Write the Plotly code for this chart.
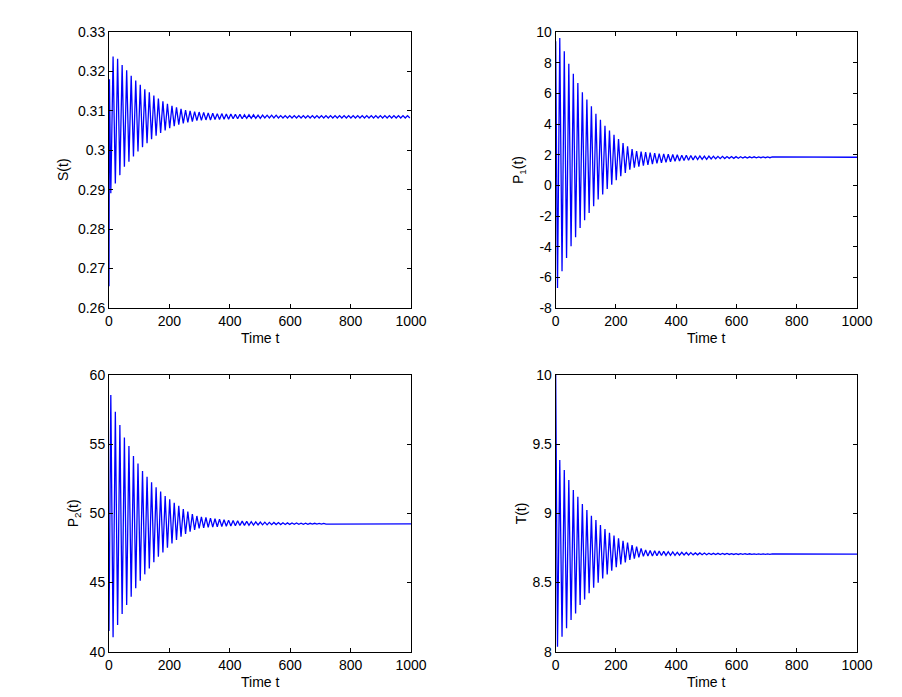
import plotly.graph_objects as go
from itertools import zip_longest

# times of the successive extrema (~15 time units per cycle)
t_ext = [
    6, 13.5, 21, 28.5, 36, 43.5, 51, 58.5, 66, 73.5,
    81, 88.5, 96, 103.5, 111, 118.5, 126, 133.5, 141, 148.5,
    156, 163.5, 171, 178.5, 186, 193.5, 201, 208.5, 216, 223.5,
    231, 238.5, 246, 253.5, 261, 268.5, 276, 283.5, 291, 298.5,
    306, 313.5, 321, 328.5, 336, 343.5, 351, 358.5, 366, 373.5,
    381, 388.5, 396, 403.5, 411, 418.5, 426, 433.5, 441, 448.5,
    456, 463.5, 471, 478.5, 486, 493.5, 501, 508.5, 516, 523.5,
    531, 538.5, 546, 553.5, 561, 568.5, 576, 583.5, 591, 598.5,
    606, 613.5, 621, 628.5, 636, 643.5, 651, 658.5, 666, 673.5,
    681, 688.5, 696, 703.5, 711, 718.5, 726, 733.5, 741, 748.5,
    756, 763.5, 771, 778.5, 786, 793.5, 801, 808.5, 816, 823.5,
    831, 838.5, 846, 853.5, 861, 868.5, 876, 883.5, 891, 898.5,
    906, 913.5, 921, 928.5, 936, 943.5, 951, 958.5, 966, 973.5,
    981, 988.5, 996,
]

# S(t)
s_start_t = [0, 1.5]
s_start = [0.2655, 0.318]
s_trough = [
    0.2891, 0.2916, 0.2937, 0.2958, 0.2971, 0.2984, 0.2997, 0.3008, 0.3018, 0.3028,
    0.3037, 0.3044, 0.3050, 0.3056, 0.3061, 0.3065, 0.3068, 0.3071, 0.3073, 0.3075,
    0.3076, 0.3077, 0.3077, 0.3078, 0.3078, 0.3079, 0.3079, 0.3080, 0.3080, 0.3080,
    0.3081, 0.3081, 0.3081, 0.3081, 0.3082, 0.3082, 0.3082, 0.3082, 0.3082, 0.3082,
    0.3082, 0.3082, 0.3082, 0.3082, 0.3082, 0.3082, 0.3082, 0.3082, 0.3082, 0.3082,
    0.3082, 0.3082, 0.3082, 0.3082, 0.3082, 0.3082, 0.3082, 0.3082, 0.3082, 0.3082,
    0.3082, 0.3082, 0.3082, 0.3082, 0.3082, 0.3082, 0.3082,
]
s_peak = [
    0.3238, 0.3232, 0.3216, 0.3203, 0.3189, 0.3177, 0.3166, 0.3155, 0.3147, 0.3139,
    0.3131, 0.3124, 0.3118, 0.3113, 0.3109, 0.3105, 0.3102, 0.3100, 0.3098, 0.3097,
    0.3096, 0.3095, 0.3094, 0.3093, 0.3093, 0.3092, 0.3092, 0.3091, 0.3091, 0.3090,
    0.3090, 0.3090, 0.3089, 0.3089, 0.3089, 0.3089, 0.3089, 0.3088, 0.3088, 0.3088,
    0.3088, 0.3088, 0.3088, 0.3088, 0.3088, 0.3088, 0.3088, 0.3088, 0.3088, 0.3088,
    0.3088, 0.3088, 0.3088, 0.3088, 0.3088, 0.3088, 0.3088, 0.3088, 0.3088, 0.3088,
    0.3088, 0.3088, 0.3088, 0.3088, 0.3088, 0.3088,
]

# P1(t)
p1_start_t = [0]
p1_start = [9.4]
p1_trough = [
    -6.70, -5.60, -4.74, -3.98, -3.39, -2.78, -2.28, -1.80, -1.37, -0.93,
    -0.59, -0.24, 0.04, 0.33, 0.59, 0.80, 1.02, 1.15, 1.22, 1.28,
    1.33, 1.38, 1.43, 1.47, 1.50, 1.54, 1.57, 1.59, 1.62, 1.64,
    1.66, 1.68, 1.69, 1.70, 1.72, 1.73, 1.74, 1.75, 1.76, 1.76,
    1.77, 1.78, 1.78, 1.79, 1.79, 1.80, 1.80, 1.80,
]
p1_peak = [
    9.60, 8.74, 7.93, 7.28, 6.67, 6.07, 5.59, 5.15, 4.67, 4.28,
    3.89, 3.57, 3.30, 3.02, 2.76, 2.54, 2.37, 2.24, 2.20, 2.16,
    2.13, 2.10, 2.07, 2.05, 2.03, 2.01, 1.99, 1.97, 1.96, 1.95,
    1.93, 1.92, 1.91, 1.91, 1.90, 1.89, 1.89, 1.88, 1.88, 1.87,
    1.87, 1.86, 1.86, 1.86, 1.85, 1.85, 1.85, 1.85,
]
p1_eq = 1.83

# P2(t) (opposite phase: peaks come first)
p2_start_t = [0]
p2_start = [41.5]
p2_peak = [
    58.55, 57.35, 56.39, 55.49, 54.87, 54.14, 53.61, 53.06, 52.65, 52.24,
    51.88, 51.57, 51.25, 51.01, 50.77, 50.55, 50.31, 50.12, 49.95, 49.81,
    49.75, 49.70, 49.66, 49.61, 49.58, 49.54, 49.51, 49.49, 49.46, 49.44,
    49.42, 49.40, 49.39, 49.37, 49.36, 49.35, 49.34, 49.33, 49.32, 49.31,
    49.30, 49.30, 49.29, 49.29, 49.28, 49.28, 49.27, 49.27,
]
p2_trough = [
    41.04, 41.93, 42.72, 43.37, 43.98, 44.58, 45.13, 45.59, 46.02, 46.46,
    46.87, 47.18, 47.52, 47.83, 48.07, 48.31, 48.51, 48.67, 48.80, 48.92,
    48.95, 48.98, 49.01, 49.03, 49.05, 49.07, 49.09, 49.10, 49.12, 49.13,
    49.14, 49.15, 49.16, 49.17, 49.17, 49.18, 49.19, 49.19, 49.20, 49.20,
    49.21, 49.21, 49.21, 49.21, 49.22, 49.22, 49.22, 49.22,
]
p2_eq = 49.245

# T(t)
tt_start_t = [0]
tt_start = [10.0]
tt_trough = [
    8.036, 8.108, 8.169, 8.229, 8.277, 8.337, 8.378, 8.422, 8.463, 8.499,
    8.530, 8.559, 8.586, 8.610, 8.631, 8.646, 8.663, 8.672, 8.682, 8.689,
    8.691, 8.692, 8.693, 8.695, 8.696, 8.697, 8.697, 8.698, 8.699, 8.699,
    8.700, 8.700, 8.701, 8.701, 8.702, 8.702, 8.702, 8.703, 8.703, 8.703,
    8.703, 8.703, 8.704, 8.704, 8.704, 8.704, 8.704, 8.704,
]
tt_peak = [
    9.386, 9.313, 9.241, 9.169, 9.120, 9.067, 9.024, 8.983, 8.952, 8.916,
    8.887, 8.860, 8.839, 8.819, 8.802, 8.788, 8.771, 8.759, 8.747, 8.735,
    8.732, 8.729, 8.727, 8.725, 8.723, 8.721, 8.719, 8.718, 8.717, 8.716,
    8.714, 8.714, 8.713, 8.712, 8.711, 8.711, 8.710, 8.710, 8.709, 8.709,
    8.708, 8.708, 8.708, 8.707, 8.707, 8.707, 8.707, 8.707,
]
tt_eq = 8.705

x_ticks = [0, 200, 400, 600, 800, 1000]


def build(start_t, start_v, first, second, eq=None):
    # interleave the extrema and put them on the time grid
    vals = [v for pair in zip_longest(first, second) for v in pair if v is not None]
    t = list(start_t) + t_ext[:len(vals)]
    y = list(start_v) + vals
    if eq is not None:
        t.append(1000)
        y.append(eq)
    return t, y


# the page body adds an 8px margin, so the figure is a bit smaller and
# all screen positions are shifted back by that amount
OFF = 8
W, H = 902 - 2 * OFF, 697 - 2 * OFF
FONT = dict(family="Liberation Sans, Arial, sans-serif", size=14, color="black")


def fx(px):
    return (px - OFF) / W


def fy(py):
    return 1 - (py - OFF) / H


panels = [
    # (data, ylabel, yrange, tickvals, ticktext, x px, y px, ylabel x px)
    (build(s_start_t, s_start, s_trough, s_peak), "S(t)", [0.26, 0.33],
     [0.26, 0.27, 0.28, 0.29, 0.30, 0.31, 0.32, 0.33],
     ["0.26", "0.27", "0.28", "0.29", "0.3", "0.31", "0.32", "0.33"],
     [109, 411], [32, 308], 63),
    (build(p1_start_t, p1_start, p1_trough, p1_peak, p1_eq), "P<sub>1</sub>(t)", [-8, 10],
     [-8, -6, -4, -2, 0, 2, 4, 6, 8, 10],
     ["-8", "-6", "-4", "-2", "0", "2", "4", "6", "8", "10"],
     [555.7, 857], [32, 308], 519),
    (build(p2_start_t, p2_start, p2_peak, p2_trough, p2_eq), "P<sub>2</sub>(t)", [40, 60],
     [40, 45, 50, 55, 60], ["40", "45", "50", "55", "60"],
     [109, 411], [375, 651.7], 74),
    (build(tt_start_t, tt_start, tt_trough, tt_peak, tt_eq), "T(t)", [8, 10],
     [8, 8.5, 9, 9.5, 10], ["8", "8.5", "9", "9.5", "10"],
     [555.7, 857], [375, 651.7], 521),
]

fig = go.Figure()
annotations = []
for i, ((tx, ty), ylab, yr, tv, tt, xpx, ypx, lab_x) in enumerate(panels, start=1):
    sfx = "" if i == 1 else str(i)
    fig.add_trace(go.Scatter(
        x=tx, y=ty, mode="lines",
        line=dict(color="#0000ff", width=1.3),
        xaxis="x" + sfx, yaxis="y" + sfx, showlegend=False,
        hoverinfo="skip",
    ))
    axis_common = dict(
        showline=True, linecolor="black", linewidth=1, mirror="ticks",
        ticks="inside", ticklen=4, tickcolor="black", tickwidth=1,
        showgrid=False, zeroline=False, tickfont=FONT, automargin=False,
    )
    fig.update_layout(**{
        "xaxis" + sfx: dict(
            domain=[fx(xpx[0]), fx(xpx[1])], range=[0, 1000],
            tickvals=x_ticks, ticktext=[str(v) for v in x_ticks],
            anchor="y" + sfx, **axis_common),
        "yaxis" + sfx: dict(
            domain=[fy(ypx[1]), fy(ypx[0])], range=yr,
            tickvals=tv, ticktext=tt, anchor="x" + sfx, **axis_common),
    })
    # axis titles
    annotations.append(dict(
        text="Time t", x=fx((xpx[0] + xpx[1]) / 2), y=fy(ypx[1] + 30),
        xref="paper", yref="paper", showarrow=False, font=FONT,
        xanchor="center", yanchor="middle"))
    annotations.append(dict(
        text=ylab, x=fx(lab_x), y=fy((ypx[0] + ypx[1]) / 2),
        xref="paper", yref="paper", showarrow=False, font=FONT, textangle=-90,
        xanchor="center", yanchor="middle"))

fig.update_layout(
    width=W, height=H,
    margin=dict(l=0, r=0, t=0, b=0),
    paper_bgcolor="white", plot_bgcolor="white",
    annotations=annotations,
)

fig.write_html("out.html")
